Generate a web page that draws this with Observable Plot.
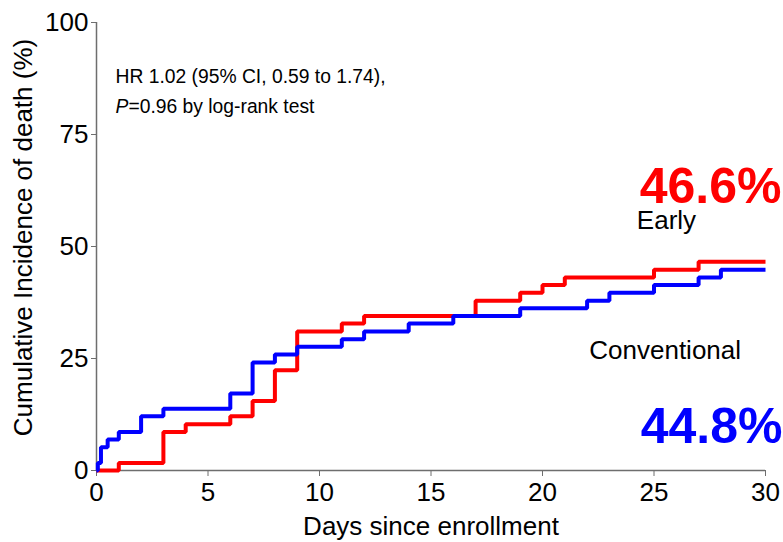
<!DOCTYPE html>
<html>
<head>
<meta charset="utf-8">
<script src="https://cdn.jsdelivr.net/npm/d3@7"></script>
<script src="https://cdn.jsdelivr.net/npm/@observablehq/plot@0.6"></script>
<style>
  html, body { margin: 0; padding: 0; background: #fff; }
  #chart { width: 783px; height: 542px; }
</style>
</head>
<body>
<div id="chart"></div>
<script>
// Cumulative incidence step data (days, %)
const earlyDays = [0, 1, 3, 4, 6, 7, 8, 9, 11, 12, 17, 19, 20, 21, 25, 27, 30];
const earlyPct  = [0, 1.7, 8.6, 10.3, 12.1, 15.5, 22.4, 31.0, 32.8, 34.5, 37.9, 39.7, 41.4, 43.1, 44.8, 46.6, 46.6];

const convDays = [0, 0.06, 0.2, 0.5, 1, 2, 3, 6, 7, 8, 9, 11, 12, 14, 16, 19, 22, 23, 25, 27, 28, 30];
const convPct  = [0, 1.7, 5.2, 6.9, 8.6, 12.1, 13.8, 17.2, 24.1, 25.9, 27.6, 29.3, 31.0, 32.8, 34.5, 36.2, 37.9, 39.7, 41.4, 43.1, 44.8, 44.8];

const xTicks = [0, 5, 10, 15, 20, 25, 30];
const yTicks = [0, 25, 50, 75, 100];

const xLabel = "Days since enrollment";
const yLabel = "Cumulative Incidence of death (%)";
const hrLine1 = "HR 1.02 (95% CI, 0.59 to 1.74),";
const hrLine2P = "P";
const hrLine2Rest = "=0.96 by log-rank test";
const earlyLabel = "Early";
const convLabel = "Conventional";
const earlyFinal = "46.6%";
const convFinal = "44.8%";

const early = earlyDays.map((d, i) => ({day: d, pct: earlyPct[i]}));
const conv = convDays.map((d, i) => ({day: d, pct: convPct[i]}));

const axisColor = "#6e6e6e";

const chart = Plot.plot({
  width: 783,
  height: 542,
  marginLeft: 96,
  marginRight: 18,
  marginTop: 22,
  marginBottom: 72,
  style: {fontFamily: "'Liberation Sans', Arial, sans-serif", background: "#fff", color: "#000"},
  x: {domain: [0, 30]},
  y: {domain: [0, 100]},
  marks: [
    Plot.axisX({ticks: xTicks, tickSize: 6, tickPadding: 6, fontSize: 26, stroke: axisColor, fill: "#000", label: null}),
    Plot.axisY({ticks: yTicks, tickSize: 5, tickPadding: 3, fontSize: 26, stroke: axisColor, fill: "#000", label: null}),
    Plot.ruleY([0], {stroke: axisColor, strokeWidth: 1.5}),
    Plot.ruleX([0], {stroke: axisColor, strokeWidth: 1.5}),
    Plot.lineY(early, {x: "day", y: "pct", curve: "step-after", stroke: "#ff0000", strokeWidth: 4, strokeLinejoin: "miter", strokeLinecap: "butt"}),
    Plot.lineY(conv, {x: "day", y: "pct", curve: "step-after", stroke: "#0000ff", strokeWidth: 4, strokeLinejoin: "miter", strokeLinecap: "butt"}),
    Plot.text([xLabel], {frameAnchor: "bottom", dy: 64, lineAnchor: "bottom", textAnchor: "middle", fontSize: 26, fill: "#000"}),
    Plot.text([yLabel], {frameAnchor: "left", dx: -73, dy: -9, rotate: -90, textAnchor: "middle", lineAnchor: "middle", fontSize: 26, fill: "#000"}),
    Plot.text([hrLine1], {x: 0.85, y: 86.6, textAnchor: "start", lineAnchor: "bottom", fontSize: 19.3, fill: "#000"}),
    Plot.text([hrLine2P], {x: 0.85, y: 79.7, textAnchor: "start", lineAnchor: "bottom", fontSize: 19.3, fontStyle: "italic", fill: "#000"}),
    Plot.text([hrLine2Rest], {x: 0.85, y: 79.7, dx: 13, textAnchor: "start", lineAnchor: "bottom", fontSize: 19.3, fill: "#000"}),
    Plot.text([earlyFinal], {x: 30, y: 59.8, dx: 16, textAnchor: "end", lineAnchor: "bottom", fontSize: 50, fontWeight: "bold", fill: "#ff0000"}),
    Plot.text([earlyLabel], {x: 25.56, y: 54.0, textAnchor: "middle", lineAnchor: "bottom", fontSize: 26, fill: "#000"}),
    Plot.text([convLabel], {x: 25.5, y: 25.0, textAnchor: "middle", lineAnchor: "bottom", fontSize: 26, fill: "#000"}),
    Plot.text([convFinal], {x: 30, y: 6.25, dx: 17, textAnchor: "end", lineAnchor: "bottom", fontSize: 50, fontWeight: "bold", fill: "#0000ff"})
  ]
});
document.getElementById("chart").appendChild(chart);
</script>
</body>
</html>
